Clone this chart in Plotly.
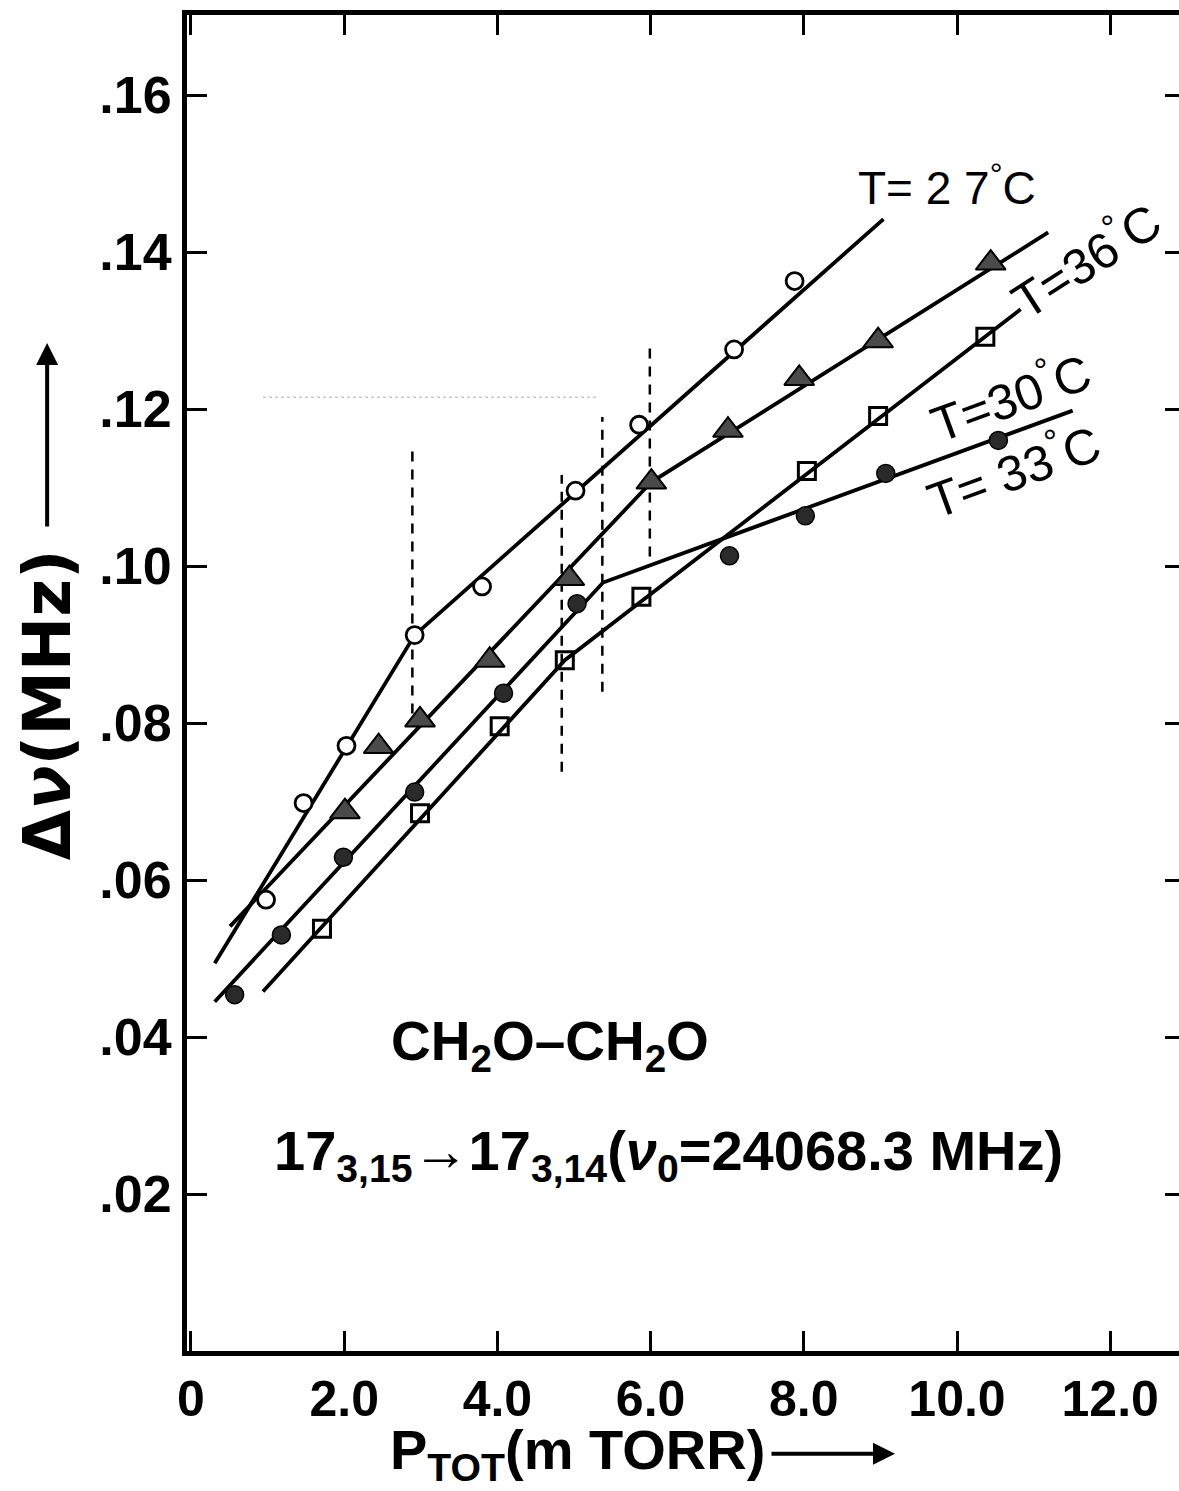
import plotly.graph_objects as go

# ---------------- data ----------------
# T = 27 C (open circles)
p27 = [0.98, 1.47, 2.03, 2.92, 3.80, 5.02, 5.85, 7.09, 7.88]
d27 = [0.0575, 0.0698, 0.0771, 0.0912, 0.0974, 0.1096, 0.1180, 0.1276, 0.1363]
fit27_x = [0.31, 2.92, 9.04]
fit27_y = [0.0494, 0.0912, 0.1442]

# T = 36 C (filled triangles)
p36 = [2.01, 2.45, 2.99, 3.90, 4.94, 6.01, 7.01, 7.94, 8.97, 10.44]
d36 = [0.0687, 0.0770, 0.0804, 0.0880, 0.0984, 0.1107, 0.1173, 0.1239, 0.1287, 0.1386]
fit36_x = [0.51, 6.01, 11.19]
fit36_y = [0.0541, 0.1107, 0.1425]

# T = 30 C (open squares)
p30 = [1.71, 2.99, 4.03, 4.88, 5.88, 8.04, 8.97, 10.37]
d30 = [0.0538, 0.0685, 0.0796, 0.0880, 0.0961, 0.1121, 0.1191, 0.1292]
fit30_x = [0.94, 4.88, 10.83]
fit30_y = [0.0458, 0.0880, 0.1327]

# T = 33 C (filled circles)
p33 = [0.57, 1.18, 1.99, 2.92, 4.08, 5.04, 7.03, 8.02, 9.07, 10.54]
d33 = [0.0454, 0.0530, 0.0629, 0.0712, 0.0838, 0.0952, 0.1013, 0.1064, 0.1118, 0.1160]
fit33_x = [0.31, 5.38, 11.51]
fit33_y = [0.0445, 0.0979, 0.1198]

# vertical dashed break markers
break_x = [2.89, 4.84, 5.37, 5.99]
break_ytop = [0.1150, 0.1116, 0.1190, 0.1282]
break_ybot = [0.0812, 0.0738, 0.0840, 0.1012]

# faint dotted guide
guide_x = [0.94, 5.30]
guide_y = [0.1215, 0.1215]

xtick_vals = [0, 2, 4, 6, 8, 10, 12]
xtick_text = ["0", "2.0", "4.0", "6.0", "8.0", "10.0", "12.0"]
ytick_vals = [0.02, 0.04, 0.06, 0.08, 0.10, 0.12, 0.14, 0.16]
ytick_text = [".02", ".04", ".06", ".08", ".10", ".12", ".14", ".16"]

X_RANGE = [-0.052, 12.898]
Y_RANGE = [0.0, 0.1702]

FONT = "Liberation Sans, Arial, sans-serif"
WIDE = "DejaVu Sans, Liberation Sans, sans-serif"

fig = go.Figure()

# dashed break lines
for bx, yt, yb in zip(break_x, break_ytop, break_ybot):
    fig.add_trace(go.Scatter(x=[bx, bx], y=[yb, yt], mode="lines",
                             line=dict(color="black", width=2.5, dash="10px,8px"),
                             hoverinfo="skip", showlegend=False))

fig.add_trace(go.Scatter(x=guide_x, y=guide_y, mode="lines",
                         line=dict(color="#c8c8c8", width=1.5, dash="dot"),
                         hoverinfo="skip", showlegend=False))

# fitted lines
for fx, fy in [(fit27_x, fit27_y), (fit36_x, fit36_y), (fit30_x, fit30_y), (fit33_x, fit33_y)]:
    fig.add_trace(go.Scatter(x=fx, y=fy, mode="lines",
                             line=dict(color="black", width=3.8),
                             hoverinfo="skip", showlegend=False))

# markers
fig.add_trace(go.Scatter(x=p27, y=d27, mode="markers", name="T=27°C",
                         marker=dict(symbol="circle", size=17, color="white",
                                     line=dict(color="black", width=2.8)),
                         showlegend=False))
fig.add_trace(go.Scatter(x=p36, y=d36, mode="markers", name="T=36°C",
                         marker=dict(symbol="triangle-up", size=26, color="#4a4a4a",
                                     line=dict(color="black", width=2)),
                         showlegend=False))
fig.add_trace(go.Scatter(x=p30, y=d30, mode="markers", name="T=30°C",
                         marker=dict(symbol="square-open", size=17, color="black",
                                     line=dict(color="black", width=3)),
                         showlegend=False))
fig.add_trace(go.Scatter(x=p33, y=d33, mode="markers", name="T=33°C",
                         marker=dict(symbol="circle", size=18, color="#2a2a2a",
                                     line=dict(color="black", width=1.5)),
                         showlegend=False))

# dummy trace for the right-hand tick axis
fig.add_trace(go.Scatter(x=[None], y=[None], yaxis="y2", showlegend=False, hoverinfo="skip"))

ann = []
def label(text, x, y, angle=0, size=50, xref="x", yref="y", bold=False, family=FONT):
    ann.append(dict(text=text, x=x, y=y, xref=xref, yref=yref, showarrow=False,
                    textangle=angle,
                    font=dict(family=family, size=size, color="black",
                              weight="bold" if bold else "normal"),
                    xanchor="center", yanchor="middle"))

def arrow(x, y, ax, ay):
    ann.append(dict(text="", x=x, y=y, xref="paper", yref="paper", ax=ax, ay=ay,
                    showarrow=True, arrowhead=2, arrowsize=1.1, arrowwidth=4,
                    arrowcolor="black"))

label("T= 2 7<sup>°</sup>C", 9.87, 0.1485, 0, 46)
label("T=36<sup>°</sup>C", 11.67, 0.1392, -33, 50)
label("T=30<sup>°</sup>C", 10.69, 0.1218, -20, 50)
label("T= 33<sup>°</sup>C", 10.72, 0.1124, -20, 50)
label("CH<sub>2</sub>O–CH<sub>2</sub>O", 4.69, 0.0390, 0, 55, bold=True)
label("17<sub>3,15</sub>→17<sub>3,14</sub>(<i>ν</i><sub>0</sub>=24068.3 MHz)", 6.23, 0.0250, 0, 56, bold=True)

# axis titles (text + long arrow)
label("Δ<i>ν</i>(MHz)", -0.141, 0.4835, -90, 65, xref="paper", yref="paper", bold=True, family=WIDE)
arrow(-0.141, 0.7545, 0, 185)
label("P<sub>TOT</sub>(m TORR)", 0.394, -0.077, 0, 56, xref="paper", yref="paper", bold=True)
arrow(0.7137, -0.077, -125, 0)

fig.update_layout(
    width=1179, height=1491,
    margin=dict(l=187, r=0, t=15, b=140),
    paper_bgcolor="white", plot_bgcolor="white",
    showlegend=False,
    annotations=ann,
    hovermode=False,
    xaxis=dict(range=X_RANGE, showgrid=False, zeroline=False,
               showline=True, linecolor="black", linewidth=5, mirror="ticks",
               ticks="inside", ticklen=20, tickwidth=3, tickcolor="black",
               tickvals=xtick_vals, ticktext=xtick_text,
               tickfont=dict(family=FONT, size=50, color="black", weight="bold")),
    yaxis=dict(range=Y_RANGE, showgrid=False, zeroline=False,
               showline=True, linecolor="black", linewidth=5,
               ticks="inside", ticklen=20, tickwidth=3, tickcolor="black",
               tickvals=ytick_vals, ticktext=ytick_text,
               tickfont=dict(family=FONT, size=52, color="black", weight="bold")),
    yaxis2=dict(range=Y_RANGE, overlaying="y", side="right", showgrid=False,
                zeroline=False, showline=False, showticklabels=False,
                ticks="inside", ticklen=14, tickwidth=3, tickcolor="black",
                tickvals=ytick_vals),
)

fig.write_html("out.html", config={"displayModeBar": False},
               post_script="document.body.style.margin='0px';document.body.style.overflow='hidden';")
